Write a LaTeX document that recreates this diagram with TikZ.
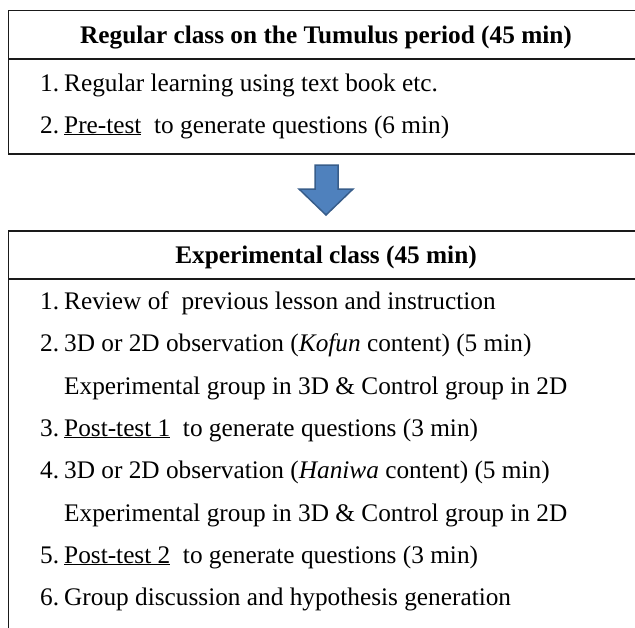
\documentclass[tikz,border=0pt]{standalone}
\usepackage{fontspec}
\setmainfont{Liberation Serif}
\definecolor{arrowfill}{HTML}{4F81BD}
\definecolor{arrowline}{HTML}{385D8A}
\definecolor{boxline}{HTML}{1A1A1A}
\newcommand{\ul}[1]{\underline{#1}}
\begin{document}
\begin{tikzpicture}[x=1pt,y=-1pt,
  boxline/.style={draw=boxline,line width=1.3pt},
  body/.style={anchor=base west,inner sep=0pt,font=\fontsize{25.3}{30}\selectfont},
  head/.style={anchor=base,inner sep=0pt,font=\fontsize{25.3}{30}\selectfont\bfseries}]
\useasboundingbox (0,0) rectangle (635,627);
\begin{scope}
\clip (0,0) rectangle (635,627);
% top box
\draw[boxline] (644,10.5) -- (8.5,10.5) -- (8.5,154) -- (644,154);
\draw[boxline] (8.5,59) -- (644,59);
% bottom box
\draw[boxline] (644,231) -- (8.5,231) -- (8.5,640);
\draw[boxline] (8.5,279) -- (644,279);
\end{scope}
\node[head] (h1) at (326,43) {Regular class on the Tumulus period (45 min)};
\node[body] (n1) at (40,91) {1.};
\node[body] (a1) at (64,91) {Regular learning using text book etc.};
\node[body] (n2) at (40,133) {2.};
\node[body] (a2) at (64,133) {\ul{Pre-test}\ \ to generate questions (6 min)};
% arrow
\draw[draw=arrowline,fill=arrowfill,line width=1.5pt,line join=miter]
  (315,165) -- (338,165) -- (338,189) -- (353,189) -- (326,215) -- (299,189) -- (315,189) -- cycle;
\node[head] (h2) at (326,263) {Experimental class (45 min)};
\node[body] (m1) at (40,309) {1.};
\node[body] (b1) at (64,309) {Review of\ \ previous lesson and instruction};
\node[body] (m2) at (40,351) {2.};
\node[body] (b2) at (64,351) {3D or 2D observation (\textit{Kofun} content) (5 min)};
\node[body] (b2x) at (64,394) {Experimental group in 3D \& Control group in 2D};
\node[body] (m3) at (40,436) {3.};
\node[body] (b3) at (64,436) {\ul{Post-test 1}\ \ to generate questions (3 min)};
\node[body] (m4) at (40,478) {4.};
\node[body] (b4) at (64,478) {3D or 2D observation (\textit{Haniwa} content) (5 min)};
\node[body] (b4x) at (64,521) {Experimental group in 3D \& Control group in 2D};
\node[body] (m5) at (40,563) {5.};
\node[body] (b5) at (64,563) {\ul{Post-test 2}\ \ to generate questions (3 min)};
\node[body] (m6) at (40,605) {6.};
\node[body] (b6) at (64,605) {Group discussion and hypothesis generation};
\end{tikzpicture}
\end{document}
